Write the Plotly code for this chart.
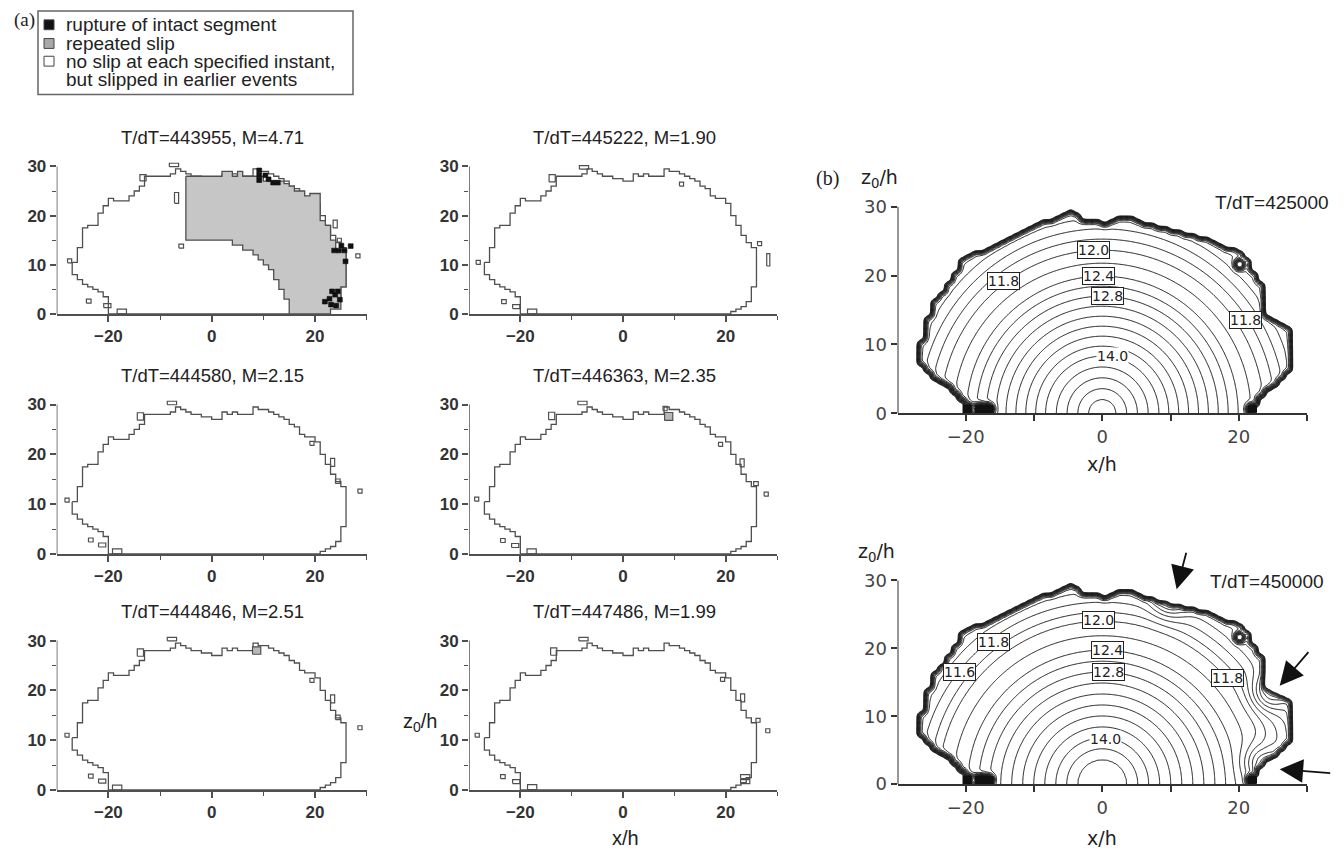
import numpy as np
import plotly.graph_objects as go

PAGE_W, PAGE_H = 1344, 861
OFF = 8                      # browser body margin
W, H = PAGE_W - OFF, PAGE_H - OFF

# ---------------- (a) data ----------------
# base outline of the area that slipped in earlier events (unit columns [x, x+1])
col_x = list(range(-27, 26))
col_top = [10.5, 13.5, 17.5, 18, 18, 20.5, 22, 23.5, 23, 23,
           23, 24, 25, 26, 28, 28, 28, 28, 28, 28.5,
           29.5, 29, 28.5, 28, 28, 27.5, 27.5,
           27, 27, 28.5, 28, 28.5, 28, 28, 28, 29.5, 29,
           29, 28.5, 28, 27.5, 27, 26, 25.5, 24, 23.5, 23.5,
           22.5, 20, 18, 16, 14.5, 13.5]
col_bot = [8, 7, 6, 5.5, 5, 4.5, 3.5,
           0, 0, 0, 0, 0, 0, 0, 0, 0, 0, 0, 0, 0, 0, 0, 0, 0, 0, 0, 0,
           0, 0, 0, 0, 0, 0, 0, 0, 0, 0, 0, 0, 0, 0, 0, 0, 0, 0, 0, 0, 0,
           0.5, 1, 1.5, 2.5, 5.5]

# repeated-slip region of event T/dT=443955
gray_x = list(range(-5, 26))
gray_top = [28, 28, 28, 28, 28, 28, 28, 29, 29, 28, 29, 28, 28, 28, 28,
            27, 27, 27, 27, 26.5, 26, 25, 25, 24, 24.5, 24.5, 19, 18, 15, 13, 13]
gray_bot = [15, 15, 15, 15, 15, 15, 15, 15, 15, 14, 14, 13, 13, 12, 11,
            10, 9, 7, 5, 3, 0, 0, 0, 0, 0, 0, 0, 0, 1, 1, 5.5]

# rupture of intact segments (black cells, lower-left corners) for T/dT=443955
black_x = [8.7, 8.7, 8.7, 9.9, 10.5, 11.4, 12.3, 23.2, 24.1, 24.6, 25.2, 26.4, 25.4,
           21.4, 22.3, 22.6, 23.4, 23.6, 24.3, 22.8, 23.9]
black_z = [28.7, 27.7, 26.7, 27.7, 26.9, 26.2, 26.2, 12.4, 12.4, 13.4, 12.4, 13.3, 10.2,
           2.0, 2.6, 1.4, 3.4, 1.2, 2.4, 4.1, 4.1]

# isolated patches (centre x, centre z, width, height) per event
sq_443955 = [(-27.5, 10.8, 0.8, 0.8), (-23.8, 2.6, 0.9, 0.8), (-20.2, 1.7, 1.4, 0.8),
             (-17.4, 0.5, 1.8, 1.0), (-7.3, 30.3, 1.8, 0.7), (-6.8, 23.6, 0.8, 2.2),
             (-5.9, 13.8, 0.9, 0.8), (-13.3, 27.7, 1.2, 1.3), (23.9, 18.3, 0.8, 1.6),
             (24.7, 15.0, 0.8, 0.8), (28.3, 11.8, 0.8, 0.8)]
sq_445222 = [(-28.2, 10.5, 0.8, 0.8), (-23.2, 2.5, 0.9, 0.8), (-20.8, 1.5, 1.4, 0.8),
             (-17.7, 0.5, 1.8, 1.0), (-7.6, 29.8, 1.8, 0.7), (-13.8, 27.6, 1.2, 1.5),
             (11.4, 26.4, 0.8, 0.8), (26.6, 14.3, 0.8, 0.8), (28.3, 11.0, 0.6, 2.5)]
sq_444580 = [(-28.0, 10.8, 0.8, 0.8), (-23.4, 2.8, 0.9, 0.8), (-21.2, 1.8, 1.4, 0.8),
             (-18.3, 0.5, 1.8, 1.0), (-7.7, 30.3, 1.8, 0.7), (-13.8, 27.6, 1.2, 1.5),
             (19.4, 22.2, 0.8, 0.8), (23.4, 18.4, 0.8, 1.6), (24.4, 14.6, 0.9, 0.9),
             (28.7, 12.6, 0.8, 0.8)]
sq_446363 = [(-28.5, 11.0, 0.8, 0.8), (-23.4, 2.7, 0.9, 0.8), (-21.0, 1.7, 1.4, 0.8),
             (-17.8, 0.5, 1.8, 1.0), (-7.9, 30.3, 1.8, 0.7), (-13.9, 27.7, 1.2, 1.5),
             (8.2, 29.2, 0.8, 0.9), (19.0, 22.0, 0.8, 0.8), (23.2, 18.3, 0.8, 1.6),
             (25.9, 14.1, 0.9, 0.8), (27.9, 12.0, 0.8, 0.8)]
sq_444846 = [(-28.0, 11.0, 0.8, 0.8), (-23.4, 2.8, 0.9, 0.8), (-21.2, 1.8, 1.4, 0.8),
             (-18.3, 0.5, 1.8, 1.0), (-7.7, 30.3, 1.8, 0.7), (-13.8, 27.6, 1.2, 1.5),
             (19.4, 22.0, 0.8, 0.8), (23.4, 18.3, 0.8, 1.6), (24.4, 14.6, 0.9, 0.9),
             (28.7, 12.5, 0.8, 0.8)]
sq_447486 = [(-28.4, 11.0, 0.8, 0.8), (-23.4, 2.7, 0.9, 0.8), (-20.8, 1.7, 1.4, 0.8),
             (-17.7, 0.6, 1.8, 1.0), (-7.7, 30.3, 1.8, 0.7), (-13.5, 27.8, 1.2, 1.5),
             (19.4, 22.2, 0.8, 0.8), (23.3, 18.5, 0.8, 1.6), (26.3, 14.0, 0.8, 0.8),
             (28.2, 11.9, 0.8, 0.8), (23.8, 2.7, 1.8, 0.8), (23.8, 1.7, 1.8, 0.8)]
# repeated-slip single cells (centre x, centre z, width, height)
gray_446363 = [(8.9, 27.6, 1.6, 1.6)]
gray_444846 = [(8.7, 28.0, 1.6, 1.5)]

titles_a = ["T/dT=443955, M=4.71", "T/dT=445222, M=1.90",
            "T/dT=444580, M=2.15", "T/dT=446363, M=2.35",
            "T/dT=444846, M=2.51", "T/dT=447486, M=1.99"]
squares_a = [sq_443955, sq_445222, sq_444580, sq_446363, sq_444846, sq_447486]
graycells_a = [[], [], [], gray_446363, gray_444846, []]

# ---------------- (b) data ----------------
# rupture front used in (b): unit columns [x, x+1]
bcol_x = list(range(-27, 28))
bcol_top = [10.5, 14, 16.5, 17.5, 19, 20.5, 22.5, 23, 23.5, 23.5,
            24, 24.5, 25, 25.5, 26, 26.5, 27, 27.5, 28, 28,
            28.5, 29, 29.5, 29, 28, 28, 28,
            27.5, 28, 28.5, 28.5, 28.5, 28, 27.5, 27.5, 27, 27,
            26.5, 26.5, 26, 26, 25.5, 25.5, 25, 24.5, 24, 24,
            23.5, 22.5, 20.5, 19, 14, 13.5, 13, 12.5]
bcol_bot = [7, 6, 5, 4.5, 4, 3, 2,
            0, 0, 0, 0, 0, 0, 0, 0, 0, 0, 0, 0, 0, 0, 0, 0, 0, 0, 0, 0,
            0, 0, 0, 0, 0, 0, 0, 0, 0, 0, 0, 0, 0, 0, 0, 0, 0, 0, 0, 0, 0, 0,
            1, 2.5, 3.5, 4, 5, 6]
# dense black patches at the front base, and a small unslipped loop (centre x, z, width, height)
b_blobs = [(-19.8, 0.6, 1.2, 1.2), (-17.3, 0.6, 2.6, 1.1), (22.0, 0.6, 1.2, 1.0)]
b_loops = [(20.2, 21.6, 0.9, 0.9)]
# radial profile of the contoured quantity
prof_r_425 = [0, 2.0, 8.3, 17.0, 19.9, 23.7, 25.3, 35]
prof_v_425 = [14.95, 14.8, 14.0, 12.8, 12.4, 12.0, 11.8, 10.5]
prof_r_450 = [0, 3.6, 6.8, 16.5, 19.7, 24.0, 25.3, 35]
prof_v_450 = [14.55, 14.4, 14.0, 12.8, 12.4, 12.0, 11.8, 10.5]
# local stress concentrations (arrows) at T/dT=450000
dip_x_450 = [10.0, 24.5, 23.5]
dip_z_450 = [27.5, 13.5, 3.0]
# contour labels: (text, x, z, boxed)
labels_425 = [("12.0", -1.3, 23.7, True), ("12.4", -0.6, 19.9, True), ("12.8", 0.8, 17.0, True),
              ("14.0", 1.5, 8.3, False), ("11.8", 21.0, 13.5, True), ("11.8", -14.5, 19.2, True)]
labels_450 = [("12.0", -0.5, 24.1, True), ("12.4", 0.8, 19.7, True), ("12.8", 0.9, 16.5, True),
              ("14.0", 0.5, 6.7, False), ("11.8", 18.4, 15.7, True), ("11.8", -15.9, 20.9, True),
              ("11.6", -20.9, 16.5, True)]
# arrows: tip (x, z) in data units
arrow_x = [10.9, 26.0, 26.0]
arrow_z = [28.7, 14.5, 2.2]


# ---------------- helpers ----------------
def px_x(p):
    return (p - OFF) / W


def px_y(p):
    return 1 - (p - OFF) / H


def column_polygon(xs, tops, bots):
    px, pz = [], []
    for x, t in zip(xs, tops):
        px += [x, x + 1]
        pz += [t, t]
    for x, b in zip(xs[::-1], bots[::-1]):
        px += [x + 1, x]
        pz += [b, b]
    px.append(px[0])
    pz.append(pz[0])
    return px, pz


def rects(items):
    xs, zs = [], []
    for cx, cz, w, h in items:
        xs += [cx - w / 2, cx + w / 2, cx + w / 2, cx - w / 2, cx - w / 2, None]
        zs += [cz - h / 2, cz - h / 2, cz + h / 2, cz + h / 2, cz - h / 2, None]
    return xs, zs


def blur(a, sig):
    r = int(3 * sig) + 1
    k = np.exp(-0.5 * (np.arange(-r, r + 1) / sig) ** 2)
    k /= k.sum()
    a = np.pad(a, r, mode='edge')
    a = np.apply_along_axis(lambda v: np.convolve(v, k, mode='same'), 0, a)
    a = np.apply_along_axis(lambda v: np.convolve(v, k, mode='same'), 1, a)
    return a[r:-r, r:-r]


def field(pr, pv, dxs, dzs, depth):
    gx = np.arange(-32, 32.001, 0.25)
    gz = np.arange(-4, 34.001, 0.25)
    X, Z = np.meshgrid(gx, gz)
    mask = np.zeros_like(X)
    for x, t, b in zip(bcol_x, bcol_top, bcol_bot):
        lo = b if b > 0 else -10
        mask[(X >= x) & (X < x + 1) & (Z <= t) & (Z >= lo)] = 1.0
    for cx, cz, w, h in b_blobs + b_loops:
        mask[(np.abs(X - cx) <= w / 2) & (np.abs(Z - cz) <= h / 2)] = 0.0
    s = blur(mask, 1.5)
    R = np.hypot(X, Z)
    V = np.interp(R, pr, pv) - 3.6 * (1 - s)
    for dx, dz in zip(dxs, dzs):
        V -= depth * np.exp(-((X - dx) ** 2 + (Z - dz) ** 2) / (2 * 1.8 ** 2))
    kx = (gx >= -30) & (gx <= 30)
    kz = (gz >= 0) & (gz <= 31)
    return gx[kx], gz[kz], V[np.ix_(kz, kx)]


def note(text, x, y, size=19, family='Liberation Sans', xanchor='center', color='#222'):
    return dict(text=text, x=px_x(x), y=px_y(y), xref='paper', yref='paper', showarrow=False,
                xanchor=xanchor, yanchor='middle', font=dict(family=family, size=size, color=color))


# ---------------- figure ----------------
fig = go.Figure()
OUT = '#4f4f4f'
AX = '#505050'

a_cols = [(56.7, 366.7), (469, 777)]
a_rows = [(160, 315), (402, 559), (642, 799)]
b_x = (897.5, 1307)
b_rows = [(199, 416), (579, 793)]

layout = {}
shapes = []
annotations = []

bold_tick = dict(family='Liberation Sans', size=17, color='#333', weight='bold')

for i in range(6):
    r, c = divmod(i, 2)
    n = i + 1
    xa = 'xaxis' if n == 1 else f'xaxis{n}'
    ya = 'yaxis' if n == 1 else f'yaxis{n}'
    xr = 'x' if n == 1 else f'x{n}'
    yr = 'y' if n == 1 else f'y{n}'
    x0, x1 = a_cols[c]
    top, bot = a_rows[r]
    layout[xa] = dict(domain=[px_x(x0), px_x(x1)], anchor=yr, range=[-30, 30],
                      tickmode='array', tickvals=[-20, 0, 20], ticktext=['\u221220', '0', '20'],
                      ticks='outside', ticklen=6, tickwidth=1.5, tickcolor=AX,
                      minor=dict(tickmode='array', tickvals=[-10, 10, 30], ticks='outside',
                                 ticklen=4, tickwidth=1.2, tickcolor=AX),
                      showline=True, linecolor=AX, linewidth=2, showgrid=False, zeroline=False,
                      tickfont=bold_tick, fixedrange=True)
    layout[ya] = dict(domain=[px_y(bot), px_y(top)], anchor=xr, range=[0, 31],
                      tickmode='array', tickvals=[0, 10, 20, 30],
                      ticks='outside', ticklen=6, tickwidth=1.5, tickcolor=AX,
                      minor=dict(tickmode='array', tickvals=[5, 15, 25], ticks='outside',
                                 ticklen=4, tickwidth=1.2, tickcolor=AX),
                      showline=False, showgrid=False, zeroline=False,
                      tickfont=bold_tick, fixedrange=True)
    shapes.append(dict(type='line', xref=xr, yref=yr, x0=-30, x1=-30, y0=0, y1=30,
                       line=dict(color=AX, width=1.5)))

    ox, oz = column_polygon(col_x, col_top, col_bot)
    fig.add_trace(go.Scatter(x=ox, y=oz, mode='lines', line=dict(color=OUT, width=1.3),
                             xaxis=xr, yaxis=yr, showlegend=False, hoverinfo='skip'))
    if i == 0:
        gxp, gzp = column_polygon(gray_x, gray_top, gray_bot)
        fig.add_trace(go.Scatter(x=gxp, y=gzp, mode='lines', fill='toself', fillcolor='#c6c6c6',
                                 line=dict(color=OUT, width=1.3), xaxis=xr, yaxis=yr,
                                 showlegend=False, hoverinfo='skip'))
    if graycells_a[i]:
        gx_, gz_ = rects(graycells_a[i])
        fig.add_trace(go.Scatter(x=gx_, y=gz_, mode='lines', fill='toself', fillcolor='#b8b8b8',
                                 line=dict(color=OUT, width=1.2), xaxis=xr, yaxis=yr,
                                 showlegend=False, hoverinfo='skip'))
    sx, sz = rects(squares_a[i])
    fig.add_trace(go.Scatter(x=sx, y=sz, mode='lines', line=dict(color=OUT, width=1.2),
                             xaxis=xr, yaxis=yr, showlegend=False, hoverinfo='skip'))
    if i == 0:
        bx, bz = rects([(x + 0.5, z + 0.5, 0.95, 0.95) for x, z in zip(black_x, black_z)])
        fig.add_trace(go.Scatter(x=bx, y=bz, mode='lines', fill='toself', fillcolor='#111',
                                 line=dict(color='#111', width=0.6), xaxis=xr, yaxis=yr,
                                 showlegend=False, hoverinfo='skip'))
    annotations.append(note(titles_a[i], (x0 + x1) / 2 + 1, top - 24, size=18.5))

# ---------------- (b) contour panels ----------------
b_sets = [(prof_r_425, prof_v_425, [], [], 0.0, labels_425, "T/dT=425000", (1272, 202)),
          (prof_r_450, prof_v_450, dip_x_450, dip_z_450, 0.8, labels_450, "T/dT=450000", (1267, 587))]
light_tick = dict(family='DejaVu Sans', size=18, color='#444')
for j, (pr, pv, dxs, dzs, depth, labs, ttl, tpos) in enumerate(b_sets):
    n = 7 + j
    xr, yr = f'x{n}', f'y{n}'
    top, bot = b_rows[j]
    layout[f'xaxis{n}'] = dict(domain=[px_x(b_x[0]), px_x(b_x[1])], anchor=yr, range=[-30, 30],
                               tickmode='array', tickvals=[-20, -10, 0, 10, 20, 30],
                               ticktext=['\u221220', '', '0', '', '20', ''],
                               ticks='outside', ticklen=6, tickwidth=1.5, tickcolor='#333',
                               showline=True, linecolor='#333', linewidth=2, showgrid=False,
                               zeroline=False, tickfont=light_tick, fixedrange=True)
    layout[f'yaxis{n}'] = dict(domain=[px_y(bot), px_y(top)], anchor=xr, range=[0, 31],
                               tickmode='array', tickvals=[0, 10, 20, 30],
                               ticks='outside', ticklen=6, tickwidth=1.5, tickcolor='#333',
                               showline=False, showgrid=False, zeroline=False,
                               tickfont=light_tick, fixedrange=True)
    shapes.append(dict(type='line', xref=xr, yref=yr, x0=-30, x1=-30, y0=0, y1=30,
                       line=dict(color='#333', width=2)))
    fx, fz, V = field(pr, pv, dxs, dzs, depth)
    fig.add_trace(go.Contour(x=fx, y=fz, z=V, xaxis=xr, yaxis=yr, showscale=False,
                             contours=dict(start=9.4, end=14.8, size=0.2, coloring='lines'),
                             colorscale=[[0, '#1a1a1a'], [1, '#1a1a1a']],
                             line=dict(width=1.0, smoothing=0.6), hoverinfo='skip'))
    blx, blz = rects(b_blobs)
    fig.add_trace(go.Scatter(x=blx, y=blz, mode='lines', fill='toself', fillcolor='#111',
                             line=dict(color='#111', width=1), xaxis=xr, yaxis=yr,
                             showlegend=False, hoverinfo='skip'))
    for txt, lx, lz, boxed in labs:
        annotations.append(dict(text=txt, x=lx, y=lz, xref=xr, yref=yr, showarrow=False,
                                xanchor='center', yanchor='middle',
                                bgcolor='white', bordercolor='#222' if boxed else 'rgba(0,0,0,0)',
                                borderwidth=1, borderpad=0,
                                font=dict(family='DejaVu Sans', size=14, color='#222')))
    annotations.append(note(ttl, tpos[0], tpos[1], size=19))

# arrows in the T/dT=450000 panel
arrow_off = [(10, -38), (30, -35), (52, 4)]
for (ax_, ay_), tx, tz in zip(arrow_off, arrow_x, arrow_z):
    annotations.append(dict(x=tx, y=tz, xref='x8', yref='y8', ax=ax_, ay=ay_, text='',
                            showarrow=True, arrowhead=2, arrowsize=2.6, arrowwidth=1.8,
                            arrowcolor='#111'))

# ---------------- text labels ----------------
annotations += [
    note('(a)', 24, 16, size=19, family='Liberation Serif'),
    note('rupture of intact segment', 64, 21, size=19, xanchor='left'),
    note('repeated slip', 64, 40, size=19, xanchor='left'),
    note('no slip at each specified instant,', 64, 58, size=19, xanchor='left'),
    note('but slipped in earlier events', 64, 77, size=19, xanchor='left'),
    note('z<sub>0</sub>/h', 420, 730, size=20),
    note('x/h', 625, 848, size=20),
    note('(b)', 827, 177, size=20, family='Liberation Serif'),
    note('z<sub>0</sub>/h', 879, 177, size=19, family='DejaVu Sans'),
    note('z<sub>0</sub>/h', 877, 558, size=19, family='DejaVu Sans'),
    note('x/h', 1102, 468, size=19, family='DejaVu Sans'),
    note('x/h', 1102, 848, size=19, family='DejaVu Sans'),
]

# legend box and swatches
shapes.append(dict(type='rect', xref='paper', yref='paper', x0=px_x(38), x1=px_x(353),
                   y0=px_y(92), y1=px_y(7), line=dict(color='#666', width=1.5)))
for yy, fc in [(21, '#111'), (40, '#a8a8a8'), (58, 'white')]:
    shapes.append(dict(type='rect', xref='paper', yref='paper', x0=px_x(44), x1=px_x(54),
                       y0=px_y(yy + 5), y1=px_y(yy - 5), fillcolor=fc,
                       line=dict(color='#444', width=1)))

fig.update_layout(width=W, height=H, margin=dict(l=0, r=0, t=0, b=0),
                  paper_bgcolor='white', plot_bgcolor='white', showlegend=False,
                  shapes=shapes, annotations=annotations, **layout)

fig.write_html("out.html")
